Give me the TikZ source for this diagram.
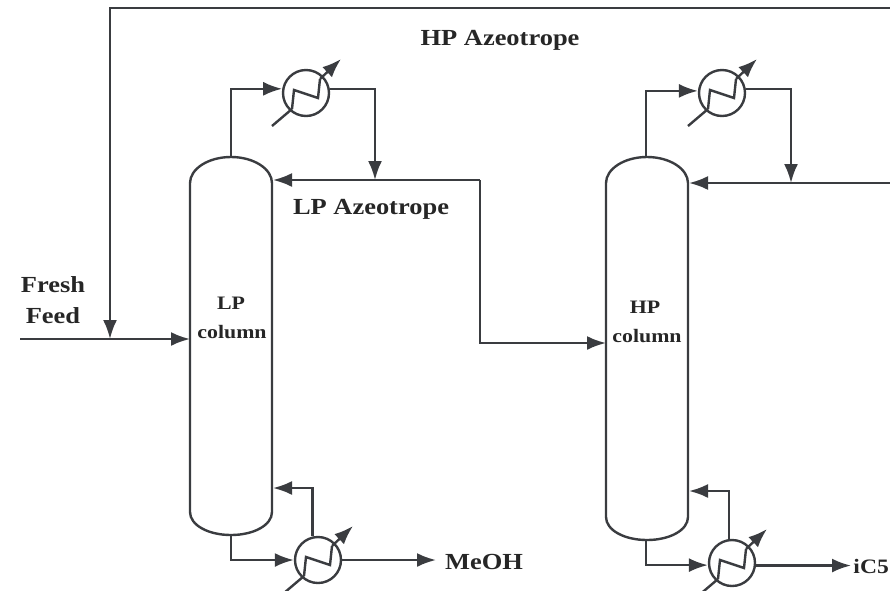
\documentclass[tikz,border=0pt]{standalone}
\usepackage{fontspec}
\setmainfont{Liberation Serif}
\newfontfamily\widefont[FakeStretch=1.15]{Liberation Serif}
\usepackage{tikz}
\usetikzlibrary{arrows.meta,positioning}

\definecolor{pipe}{HTML}{3A3C40}

\begin{document}
\begin{tikzpicture}[
        x=1pt,
        y=-1pt,
        font=\widefont\fontsize{23}{25}\selectfont\bfseries,
        line/.style={draw=pipe, line width=2.4pt},
        flow/.style={line, -{Latex[length=19pt,width=14pt]}},
        column/.style={line, fill=white},
        exch/.style={circle, line, inner sep=0pt, minimum size=46pt},
        lab/.style={text=black!85, inner sep=0pt},
        tag/.style={lab, font=\widefont\fontsize{19}{21}\selectfont\bfseries}
    ]
        \useasboundingbox (0,0) rectangle (890,590);
        \clip (0,0) rectangle (890,590);

        % columns
        \draw[column] (190,183) .. controls (190,169) and (208,157) .. (231,157)
            .. controls (254,157) and (272,169) .. (272,183)
            -- (272,512) .. controls (272,525) and (254,535) .. (231,535)
            .. controls (208,535) and (190,525) .. (190,512) -- cycle;
        \draw[column] (606,183) .. controls (606,169) and (624,157) .. (647,157)
            .. controls (670,157) and (688,169) .. (688,183)
            -- (688,517) .. controls (688,530) and (670,540) .. (647,540)
            .. controls (624,540) and (606,530) .. (606,517) -- cycle;

        \coordinate (lptop) at (231,157);
        \coordinate (lpbot) at (231,535);
        \coordinate (lpin) at (190,339);
        \coordinate (lpreflux) at (273,180);
        \coordinate (lpboil) at (273,488);
        \coordinate (hptop) at (646,157);
        \coordinate (hpbot) at (646,540);
        \coordinate (hpin) at (606,343);
        \coordinate (hpreflux) at (689,183);
        \coordinate (hpboil) at (689,491);

        % exchangers
        \foreach \name/\x/\y in {lpcond/306/93,hpcond/722/93,lpreb/318/560,hpreb/732/563} {
            \node[exch] (\name) at (\x,\y) {};
            \begin{scope}[shift={(\x,\y)}]
                \draw[line] (-34,33) -- (-14,16);
                \draw[line] (-14,16) -- (-12,-3) -- (12,5) -- (14,-14);
                \draw[flow] (14,-14) -- (35,-34);
            \end{scope}
        }

        % top of columns
        \coordinate (lpdrop) at (375,180);
        \coordinate (hpdrop) at (791,183);
        \draw[flow] (lptop) |- (lpcond.170);
        \draw[flow] (lpcond.10) -| (lpdrop);
        \draw[flow] (hptop) |- (hpcond.175);
        \draw[flow] (hpcond.10) -| (hpdrop);

        % azeotrope lines
        \coordinate (hpexit) at (890,183);
        \coordinate (recycle) at (890,8);
        \coordinate (feedin) at (20,339);
        \coordinate (mix) at (110,339);
        \coordinate (lpjoin) at (480,180);
        \draw[flow] (hpexit) -- (hpreflux);
        \draw[flow] (lpjoin) -- (lpreflux);
        \draw[flow] (lpjoin) |- (hpin);
        \draw[flow] (recycle) -| (mix);
        \draw[flow] (feedin) -- (lpin);

        % bottoms
        \draw[flow] (lpbot) |- (lpreb.west);
        \draw[flow] (lpreb.103) |- (lpboil);
        \draw[flow] (hpbot) |- (hpreb.185);
        \draw[flow] (hpreb.97) |- (hpboil);

        \coordinate (lpout) at (436,560);
        \coordinate (hpout) at (851,565);
        \draw[flow] (lpreb.east) -- (lpout);
        \draw[flow] (hpreb.354) -- (hpreb.354 -| hpout);

        % labels
        \node[lab, anchor=west] (meoh) at (445,562) {MeOH};
        \node[lab, anchor=east, font=\widefont\fontsize{20.5}{22}\selectfont\bfseries] (ic5) at (889,566) {iC5};
        \node[lab] (hpazeo) at (500,40) {HP Azeotrope};
        \node[lab] (lpazeo) at (371,209) {LP Azeotrope};
        \node[lab] (fresh) at (53,285) {Fresh};
        \node[lab] (feed) at (53,316) {Feed};
        \node[tag] (lplab) at (231,303) {LP};
        \node[tag] (lplab2) at (232,332) {column};
        \node[tag] (hplab) at (645,307) {HP};
        \node[tag] (hplab2) at (647,336) {column};
    \end{tikzpicture}
\end{document}
